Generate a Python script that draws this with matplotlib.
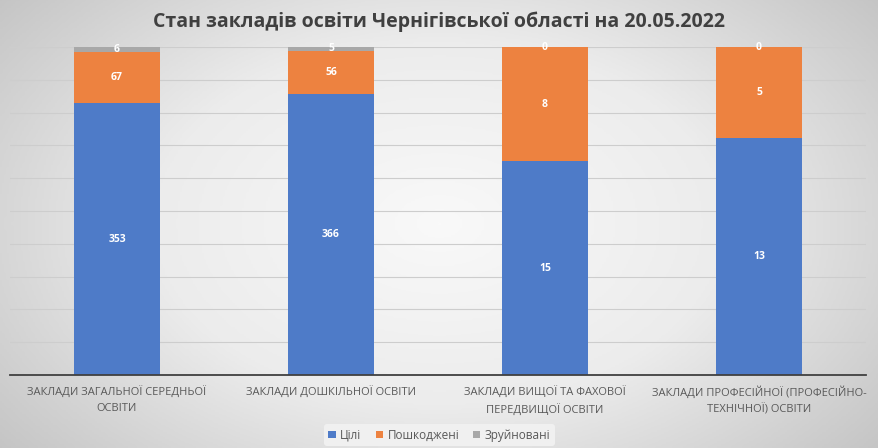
import numpy as np
import matplotlib
matplotlib.use("Agg")
import matplotlib.pyplot as plt
from matplotlib.colors import LinearSegmentedColormap

plt.rcParams['font.family'] = ['Open Sans', 'DejaVu Sans']

# data
categories = ['ЗАКЛАДИ ЗАГАЛЬНОЇ СЕРЕДНЬОЇ\nОСВІТИ',
              'ЗАКЛАДИ ДОШКІЛЬНОЇ ОСВІТИ',
              'ЗАКЛАДИ ВИЩОЇ ТА ФАХОВОЇ\nПЕРЕДВИЩОЇ ОСВІТИ',
              'ЗАКЛАДИ ПРОФЕСІЙНОЇ (ПРОФЕСІЙНО-\nТЕХНІЧНОЇ) ОСВІТИ']
whole = [353, 366, 15, 13]
damaged = [67, 56, 8, 5]
destroyed = [6, 5, 0, 0]
series_names = ['Цілі', 'Пошкоджені', 'Зруйновані']
colors = ['#4E7BC8', '#ED8240', '#A8A8A8']

fig = plt.figure(figsize=(8.79, 4.48), dpi=100)

# radial grey background
bg = fig.add_axes([0, 0, 1, 1])
yy, xx = np.mgrid[-1:1:200j, -1:1:400j]
r = np.sqrt(xx**2 + (yy * 0.8)**2)
cmap = LinearSegmentedColormap.from_list('bg', ['#f9f9f9', '#ececec', '#c4c4c4'])
bg.imshow(r, cmap=cmap, vmin=0, vmax=1.3, aspect='auto', extent=[0, 1, 0, 1])
bg.axis('off')

ax = fig.add_axes([10 / 879, 1 - 375 / 448, 856 / 879, 328 / 448])
ax.patch.set_alpha(0)

series = [whole, damaged, destroyed]
totals = np.array(whole) + np.array(damaged) + np.array(destroyed)
x = np.arange(len(categories))
bottom = np.zeros(len(categories))
for vals, name, c in zip(series, series_names, colors):
    frac = np.array(vals) / totals
    ax.bar(x, frac, 0.4, bottom=bottom, color=c, label=name, zorder=3)
    for xi, b, f, v in zip(x, bottom, frac, vals):
        ax.text(xi, b + f / 2, str(v), ha='center', va='center', color='white',
                fontsize=7.5, fontweight='bold', zorder=4)
    bottom = bottom + frac

ax.set_xlim(-0.5, len(categories) - 0.5)
ax.set_ylim(0, 1)
ax.set_yticks(np.arange(0, 1.01, 0.1))
ax.set_yticklabels([])
ax.tick_params(axis='y', length=0)
ax.grid(axis='y', color='#cdcdcd', linewidth=0.8, zorder=0)
ax.set_xticks(x)
ax.set_xticklabels(categories, fontsize=8, color='#595959', linespacing=1.6)
ax.tick_params(axis='x', length=0, pad=8)
for s in ['top', 'right', 'left']:
    ax.spines[s].set_visible(False)
ax.spines['bottom'].set_color('#404040')
ax.spines['bottom'].set_linewidth(1.3)
ax.spines['bottom'].set_zorder(5)

fig.text(0.5, 1 - 22 / 448, 'Стан закладів освіти Чернігівської області на 20.05.2022',
         ha='center', va='center', fontsize=14, fontweight='bold', color='#404040')

leg = fig.legend(loc='center', bbox_to_anchor=(0.5, 1 - 435 / 448), ncol=3,
                 frameon=True, fontsize=8.5, handlelength=0.6, handleheight=0.6,
                 handletextpad=0.4, columnspacing=1.2, borderpad=0.35)
leg.get_frame().set_facecolor('#f2f2f2')
leg.get_frame().set_edgecolor('none')
leg.get_frame().set_alpha(0.9)
for t in leg.get_texts():
    t.set_color('#595959')

fig.savefig('out.png', dpi=100)
